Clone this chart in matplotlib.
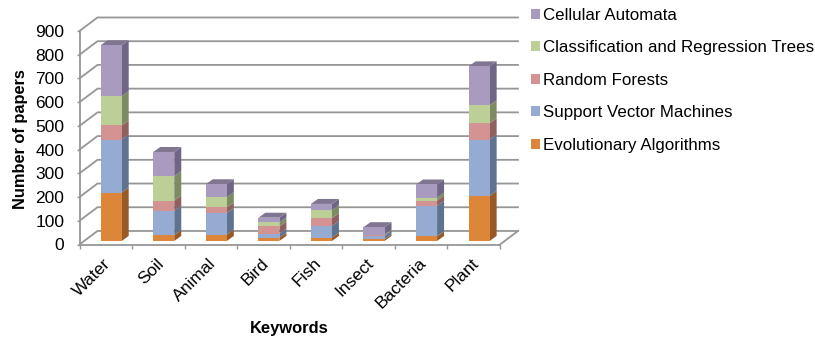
import numpy as np
import matplotlib
matplotlib.use('Agg')
import matplotlib.pyplot as plt
from matplotlib.patches import Patch

plt.rcParams['font.family'] = ['Liberation Sans', 'DejaVu Sans']

keywords = ['Water', 'Soil', 'Animal', 'Bird', 'Fish', 'Insect', 'Bacteria', 'Plant']
evolutionary = [204, 25, 27, 14, 14, 7, 20, 190]
svm = [223, 102, 91, 17, 49, 14, 128, 237]
random_forests = [60, 43, 23, 30, 33, 3, 22, 69]
cart = [123, 103, 43, 17, 34, 3, 13, 76]
cellular = [215, 102, 55, 20, 26, 31, 55, 164]

series = [
    ('Evolutionary Algorithms', evolutionary, '#DD863A', '#985A28'),
    ('Support Vector Machines', svm, '#95ABD2', '#5F7391'),
    ('Random Forests', random_forests, '#D39393', '#8F6060'),
    ('Classification and Regression Trees', cart, '#BBCF96', '#7D8B62'),
    ('Cellular Automata', cellular, '#A99BC0', '#6F6585'),
]
top_color = '#817691'
grid_color = '#969696'

W, H = 815, 340
fig = plt.figure(figsize=(W / 100, H / 100), dpi=100)
# axes box is the front plane of the fake 3D chart
ax = fig.add_axes([79.5 / W, 1 - 244.5 / H, 420.5 / W, 213.5 / H])
ax.set_xlim(0, 8)
ax.set_ylim(0, 900)

# depth of the back wall and of the bars, in data units
wall_dx, wall_dy = 0.342, 57
bar_dx, bar_dy = 0.133, 21
bar_width = 0.40
bar_shift = 0.603
floor = 15

yticks = np.arange(0, 1000, 100)
for y in yticks:
    ax.plot([0, wall_dx, 8 + wall_dx], [y, y + wall_dy, y + wall_dy],
            color=grid_color, lw=1.3, clip_on=False, zorder=1,
            solid_joinstyle='miter')
ax.plot([8, 8 + wall_dx], [0, wall_dy], color=grid_color, lw=1.3,
        clip_on=False, zorder=1)

x = np.arange(len(keywords)) + bar_shift
bottom = np.full(len(keywords), floor, dtype=float)
for name, values, color, side in series:
    values = np.array(values, dtype=float)
    ax.bar(x, values, bottom=bottom, width=bar_width, color=color, zorder=3,
           clip_on=False)
    for xi, b, v in zip(x, bottom, values):
        right = xi + bar_width / 2
        ax.fill([right, right + bar_dx, right + bar_dx, right],
                [b, b + bar_dy, b + v + bar_dy, b + v],
                color=side, lw=0, zorder=2.5, clip_on=False)
    bottom = bottom + values

# caps on top of each stack
for xi, b in zip(x, bottom):
    left, right = xi - bar_width / 2, xi + bar_width / 2
    ax.fill([left, right, right + bar_dx, left + bar_dx],
            [b, b, b + bar_dy, b + bar_dy],
            color=top_color, lw=0, zorder=2.5, clip_on=False)

for s in ['top', 'right']:
    ax.spines[s].set_visible(False)
for s in ['left', 'bottom']:
    ax.spines[s].set_color(grid_color)
    ax.spines[s].set_linewidth(1.3)

ax.set_yticks(yticks)
ax.tick_params(axis='y', length=2, width=1, color=grid_color, pad=9,
               labelsize=12.5, labelcolor='black')
ax.set_xticks(np.arange(9))
ax.set_xticklabels([])
ax.tick_params(axis='x', which='major', length=3, width=1, color=grid_color)
ax.set_xticks(np.arange(8) + 0.45, minor=True)
ax.set_xticklabels(keywords, minor=True, rotation=45, ha='right',
                   rotation_mode='anchor', fontsize=12.6)
ax.tick_params(axis='x', which='minor', length=0, pad=8)

fig.text(21 / W, 1 - 139 / H, 'Number of papers', rotation=90, ha='center',
         va='center', fontsize=11.8, fontweight='bold')
fig.text(289.5 / W, 1 - 328 / H, 'Keywords', ha='center', va='center',
         fontsize=11.9, fontweight='bold')

handles = [Patch(facecolor=c, label=n) for n, _, c, _ in reversed(series)]
fig.legend(handles=handles, loc='upper left',
           bbox_to_anchor=(531 / W, 1 - 8 / H), borderaxespad=0, borderpad=0,
           frameon=False, fontsize=12.2, handlelength=0.53, handleheight=0.53,
           handletextpad=0.2, labelspacing=1.03)

fig.savefig('out.png', dpi=100)
